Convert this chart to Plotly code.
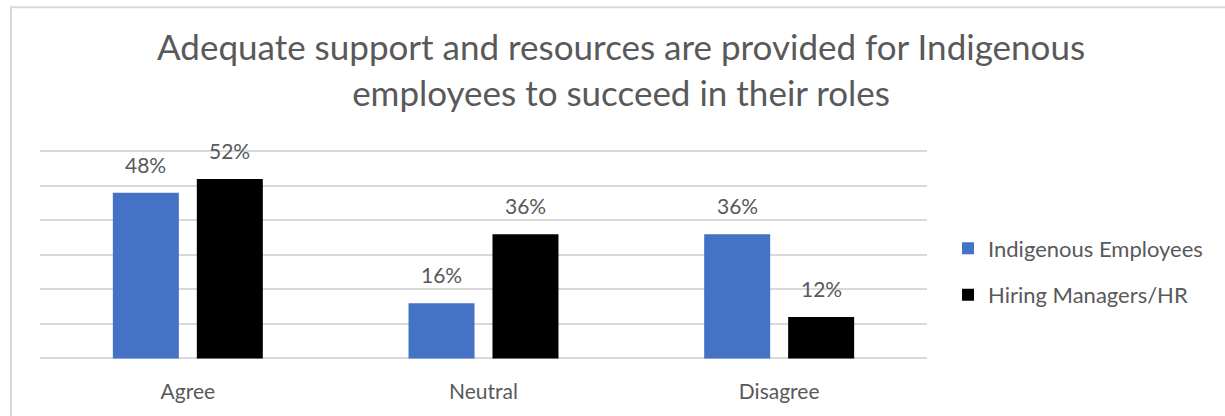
import plotly.graph_objects as go

categories = ["Agree", "Neutral", "Disagree"]
series_names = ["Indigenous Employees", "Hiring Managers/HR"]
indigenous = [48, 16, 36]
hiring = [52, 36, 12]
colors = ["#4472C4", "#000000"]

FONT = "Lato"
GREY = "#595959"

fig = go.Figure()
for i, (name, vals, col) in enumerate(zip(series_names, [indigenous, hiring], colors)):
    fig.add_trace(go.Bar(x=categories, y=vals, name=name, marker_color=col,
                         marker_line_width=0, legendgroup=f"g{i}"))

annotations = []
for vals, shift in [(indigenous, -42), (hiring, 42)]:
    for c, v in zip(categories, vals):
        annotations.append(dict(x=c, y=v, xref="x", yref="y", text=f"{v}%",
                                showarrow=False, xshift=shift, yshift=14,
                                yanchor="bottom",
                                font=dict(family=FONT, size=21, color=GREY)))

PT, PB = 147.5, 359.5
PH = PB - PT

fig.update_layout(
    width=1225, height=416,
    margin=dict(l=40, r=298, t=PT, b=416 - PB),
    paper_bgcolor="white", plot_bgcolor="white",
    barmode="group", bargap=0.432, bargroupgap=0.214,
    title=dict(text="Adequate support and resources are provided for Indigenous<br>employees to succeed in their roles",
               x=0.507, xanchor="center", y=0.855, yanchor="top",
               font=dict(family=FONT, size=35, color=GREY)),
    xaxis=dict(showgrid=False, showline=False, ticks="", ticklabelstandoff=18,
               tickfont=dict(family=FONT, size=21, color=GREY)),
    yaxis=dict(range=[-0.15, 61], dtick=10, showgrid=True, gridcolor="#D9D9D9",
               gridwidth=1.5, zeroline=True, zerolinecolor="#D9D9D9",
               zerolinewidth=1.5, showticklabels=False),
    legend=dict(x=1.0237, xanchor="left", y=(PB - 272) / PH, yanchor="middle",
                font=dict(family=FONT, size=22, color=GREY),
                itemwidth=30, traceorder="grouped", tracegroupgap=15,
                itemsizing="constant"),
    annotations=annotations,
    shapes=[dict(type="rect", xref="paper", yref="paper",
                 x0=(11 - 40) / 887, x1=(1240 - 40) / 887,
                 y0=(PB - 430) / PH, y1=(PB - 6) / PH,
                 line=dict(color="#D9D9D9", width=2), fillcolor="rgba(0,0,0,0)",
                 layer="below")],
)

fig.write_html("out.html")
